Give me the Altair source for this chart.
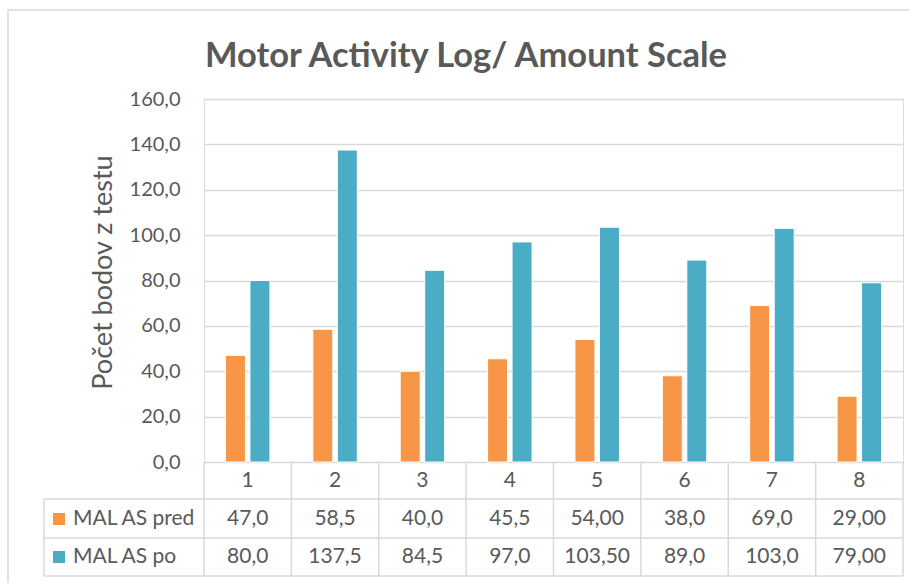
import altair as alt
import pandas as pd

categories = ["1", "2", "3", "4", "5", "6", "7", "8"]
series = ["MAL AS pred", "MAL AS po"]
colors = ["#F79646", "#4BACC6"]
pred_values = [47.0, 58.5, 40.0, 45.5, 54.0, 38.0, 69.0, 29.0]
po_values = [80.0, 137.5, 84.5, 97.0, 103.5, 89.0, 103.0, 79.0]
pred_labels = ["47,0", "58,5", "40,0", "45,5", "54,00", "38,0", "69,0", "29,00"]
po_labels = ["80,0", "137,5", "84,5", "97,0", "103,50", "89,0", "103,0", "79,00"]
y_ticks = [0, 20, 40, 60, 80, 100, 120, 140, 160]
title_text = "Motor Activity Log/ Amount Scale"

rows = []
for c, v, l in zip(categories, pred_values, pred_labels):
    rows.append({"cat": c, "series": series[0], "value": v, "label": l})
for c, v, l in zip(categories, po_values, po_labels):
    rows.append({"cat": c, "series": series[1], "value": v, "label": l})
df = pd.DataFrame(rows)
cat_df = pd.DataFrame({"cat": categories})
ser_df = pd.DataFrame({"series": series})
one = pd.DataFrame({"k": [0]})
title_df = pd.DataFrame({"t": [title_text]})

TXT = "#595959"
LINE = "#D9D9D9"
W, H = 699, 363
FS = 21

xscale = alt.Scale(domain=categories, paddingInner=0, paddingOuter=0)
cscale = alt.Scale(domain=series, range=colors)

frame = alt.Chart(one).mark_rect(fillOpacity=0, stroke=LINE, strokeWidth=1.5).encode(
    x=alt.value(-196), x2=alt.value(720), y=alt.value(-89), y2=alt.value(500)
)

title = alt.Chart(title_df).mark_text(fontSize=34.5, font="Lato", fontWeight="bold",
                                      color=TXT, baseline="alphabetic").encode(
    x=alt.value(262), y=alt.value(-32), text="t:N"
)

bars = alt.Chart(df).mark_bar(stroke="white", strokeWidth=1).encode(
    x=alt.X("cat:N", scale=xscale, axis=None, sort=categories),
    xOffset=alt.XOffset("series:N", sort=series,
                        scale=alt.Scale(domain=series, paddingInner=0.184, paddingOuter=0.875)),
    y=alt.Y("value:Q", scale=alt.Scale(domain=[0, 160]),
            axis=alt.Axis(values=y_ticks, grid=True, gridColor=LINE, gridWidth=1.5,
                          domain=False, ticks=False, labelPadding=24,
                          labelFontSize=20, labelColor=TXT, labelFont="Lato",
                          labelExpr="replace(format(datum.value, '.1f'), '.', ',')",
                          title="Počet bodov z testu", titleFontSize=27,
                          titleFontWeight="normal", titleColor=TXT, titleFont="Lato",
                          titleX=-101, titleY=173, titleBaseline="middle", titleAngle=-90)),
    color=alt.Color("series:N", scale=cscale, legend=None),
)

header = alt.Chart(cat_df).mark_text(fontSize=FS, color=TXT, font="Lato").encode(
    x=alt.X("cat:N", scale=xscale, sort=categories), y=alt.value(382), text="cat:N"
)

row_y = [420, 458]
row_layers = []
for s, yy in zip(series, row_y):
    row_layers.append(
        alt.Chart(df).transform_filter(alt.datum.series == s)
        .mark_text(fontSize=FS, color=TXT, font="Lato")
        .encode(x=alt.X("cat:N", scale=xscale, sort=categories), y=alt.value(yy), text="label:N")
    )
    row_layers.append(
        alt.Chart(ser_df).transform_filter(alt.datum.series == s)
        .mark_square(size=144, opacity=1)
        .encode(x=alt.value(-145), y=alt.value(yy),
                color=alt.Color("series:N", scale=cscale, legend=None))
    )
    row_layers.append(
        alt.Chart(ser_df).transform_filter(alt.datum.series == s)
        .mark_text(fontSize=FS, color=TXT, font="Lato", align="left")
        .encode(x=alt.value(-131), y=alt.value(yy), text="series:N")
    )

hlines = [
    alt.Chart(one).mark_rule(color=LINE, strokeWidth=1.5).encode(
        x=alt.value(-160), x2=alt.value(W), y=alt.value(yy))
    for yy in [400, 439, 477]
]
vlines = alt.Chart(cat_df).mark_rule(color=LINE, strokeWidth=1.5).encode(
    x=alt.X("cat:N", scale=xscale, sort=categories, bandPosition=0),
    y=alt.value(H), y2=alt.value(477)
)
edge_lines = [
    alt.Chart(one).mark_rule(color=LINE, strokeWidth=1.5).encode(
        x=alt.value(W), y=alt.value(H), y2=alt.value(477)),
    alt.Chart(one).mark_rule(color=LINE, strokeWidth=1.5).encode(
        x=alt.value(-160), y=alt.value(400), y2=alt.value(477)),
]

chart = alt.layer(frame, bars, *hlines, vlines, *edge_lines, header, *row_layers, title).properties(
    width=W, height=H,
    padding={"left": 204, "top": 99, "right": 6, "bottom": 121},
    autosize=alt.AutoSizeParams(type="none"),
).configure_view(stroke=None).configure(background="white")

chart.save("out.html", embed_options={"renderer": "svg", "actions": False})
